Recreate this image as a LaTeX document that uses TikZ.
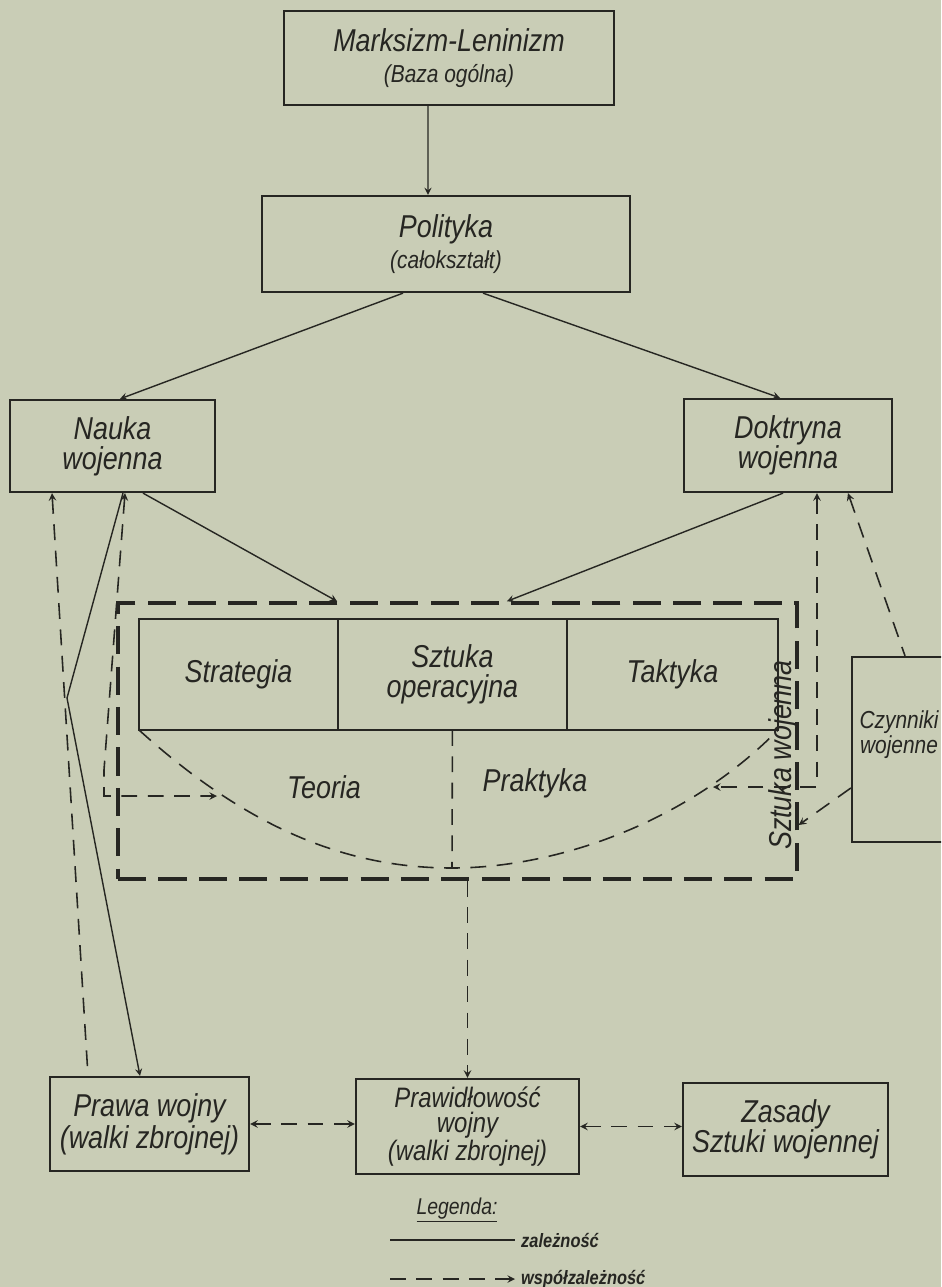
\documentclass[tikz,border=0pt]{standalone}
\usepackage{fontspec}
\setmainfont{Liberation Sans}[FakeStretch=0.85]
\usetikzlibrary{arrows,positioning}
\definecolor{paper}{RGB}{201,205,182}
\definecolor{ink}{RGB}{38,38,34}
\newcommand\subtxt{\fontsize{14}{13}\selectfont}

\begin{document}
\begin{tikzpicture}[x=0.02cm, y=-0.02cm, >=stealth,
		lbl/.style={text=ink, font=\fontsize{18}{17}\selectfont\itshape},
		box/.style={lbl, draw=ink, line width=1.3pt, inner sep=2pt, align=center},
		cell/.style={box, minimum height=2.22cm, outer sep=0pt, anchor=west},
		dep/.style={draw=ink, line width=0.8pt, ->},
		mut/.style={draw=ink, line width=0.9pt, dash pattern=on 9pt off 6pt}]
	\useasboundingbox (0,0) rectangle (941,1287);
	\fill[paper] (0,0) rectangle (941,1287);
	\clip (0,0) rectangle (941,1287);
	\node[box, minimum width=6.6cm, minimum height=1.88cm] (mark) at (449,58) {Marksizm-Leninizm\\[1pt]{\subtxt (Baza ogólna)}};
	\node[box, minimum width=7.36cm, minimum height=1.92cm] (pol) at (446,244) {Polityka\\[1pt]{\subtxt (całokształt)}};
	\node[box, minimum width=4.1cm, minimum height=1.84cm] (nauka) at (112.5,446) {Nauka\\wojenna};
	\node[box, minimum width=4.16cm, minimum height=1.86cm] (dokt) at (788,445.5) {Doktryna\\wojenna};
	\node[cell, minimum width=3.98cm] (strat) at (139,674.5) {Strategia};
	\node[cell, minimum width=4.58cm, right=0pt of strat] (szt) {Sztuka\\operacyjna};
	\node[cell, minimum width=4.22cm, right=0pt of szt] (takt) {Taktyka};
	\node[draw=ink, line width=2pt, dash pattern=on 16pt off 7pt, minimum width=13.58cm, minimum height=5.52cm] (frame) at (457.5,741) {};
	\node[lbl, rotate=90] (szw) at (783,755) {Sztuka wojenna};
	\node[lbl] (teo) at (324,787) {Teoria};
	\node[lbl] (prak) at (535,783) {Praktyka};
	\node[box, minimum width=1.88cm, minimum height=3.7cm, text depth=0.7cm, font=\subtxt\itshape] (czyn) at (899,749.5) {Czynniki\\wojenne};
	\node[box, minimum width=3.98cm, minimum height=1.88cm] (prawa) at (149.5,1124) {Prawa wojny\\[1pt](walki zbrojnej)};
	\node[box, minimum width=4.46cm, minimum height=1.9cm, font=\fontsize{16}{14.5}\selectfont\itshape] (prawid) at (467.5,1126.5) {Prawidłowość\\wojny\\(walki zbrojnej)};
	\node[box, minimum width=4.1cm, minimum height=1.86cm] (zas) at (785.5,1129.5) {Zasady\\Sztuki wojennej};
	\coordinate (bot) at (452,868);
	\coordinate (kink) at (67,698);
	\coordinate (nbend) at (104,770);
	\coordinate (tin) at (217,796);
	\coordinate (pin) at (713,787);
	\draw[mut] (strat.south west) .. controls (255,835) and (355,868) .. (bot) .. controls (560,868) and (690,820) .. (takt.south east);
	\draw[mut] (szt.south) -- (bot);
	\draw[dep] ([xshift=-0.42cm]mark.south) -- ([xshift=-0.36cm]pol.north);
	\draw[dep] ([xshift=-0.86cm]pol.south) -- ([xshift=0.15cm]nauka.north);
	\draw[dep] ([xshift=0.74cm]pol.south) -- ([xshift=-0.16cm]dokt.north);
	\draw[dep] ([xshift=0.61cm]nauka.south) -- ([xshift=-2.41cm]frame.north);
	\draw[dep] ([xshift=-0.1cm]dokt.south) -- ([xshift=0.99cm]frame.north);
	\draw[mut, <-] ([xshift=-1.21cm]nauka.south) -- ([xshift=-1.23cm]prawa.north);
	\draw[dep] ([xshift=0.21cm]nauka.south) -- (kink) -- ([xshift=-0.19cm]prawa.north);
	\draw[mut, <->] ([xshift=0.25cm]nauka.south) -- (nbend) |- (tin);
	\draw[mut, <->] ([xshift=0.58cm]dokt.south) |- (pin);
	\draw[mut, <-] ([xshift=1.2cm]dokt.south) -- ([xshift=0.12cm]czyn.north);
	\draw[mut, ->] ([yshift=-0.77cm]czyn.west) -- ([yshift=-1.68cm]frame.east);
	\draw[mut, ->] (frame.south -| prawid.north) -- (prawid.north);
	\draw[mut, <->] (prawa.east) -- (prawa.east -| prawid.west);
	\draw[mut, <->] (prawid.east) -- (prawid.east -| zas.west);
	\node[lbl, font=\fontsize{13}{13}\selectfont\itshape] (leg) at (457,1210) {\underline{Legenda:}};
	\coordinate (l1) at (390,1240);
	\coordinate (l2) at (390,1279);
	\node[lbl, anchor=west, font=\fontsize{11}{11}\selectfont\itshape\bfseries] (zal) at (515,1240) {zależność};
	\node[lbl, anchor=west, font=\fontsize{11}{11}\selectfont\itshape\bfseries] (wsp) at (515,1279) {współzależność};
	\draw[ink, line width=1pt] (l1) -- (zal.west);
	\draw[mut, ->] (l2) -- (wsp.west);
\end{tikzpicture}
\end{document}
